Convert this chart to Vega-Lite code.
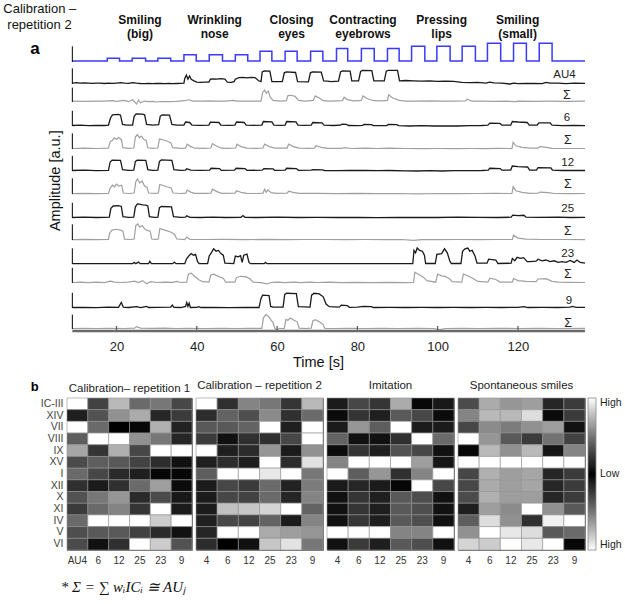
{
"$schema": "https://vega.github.io/schema/vega-lite/v6.json",
"background": "white",
"padding": {"left": 3, "top": 3, "right": 0, "bottom": 0},
"config": {"font": "Liberation Sans", "view": {"stroke": null}},
"datasets": {
"st": [{"t":9,"v":0.06},{"t":17.7,"v":0.23},{"t":20.75,"v":0.06},{"t":23.9,"v":0.23},{"t":27.25,"v":0.06},{"t":30.3,"v":0.23},{"t":33.5,"v":0.06},{"t":36.8,"v":0.45},{"t":39.85,"v":0.06},{"t":43.1,"v":0.45},{"t":46.4,"v":0.06},{"t":49.6,"v":0.45},{"t":52.7,"v":0.06},{"t":55.75,"v":0.67},{"t":58.7,"v":0.06},{"t":62,"v":0.67},{"t":65,"v":0.06},{"t":68.35,"v":0.67},{"t":71.4,"v":0.06},{"t":74.8,"v":0.84},{"t":77.6,"v":0.06},{"t":81,"v":0.84},{"t":84.2,"v":0.06},{"t":87.5,"v":0.84},{"t":90.4,"v":0.06},{"t":93.5,"v":0.99},{"t":96.8,"v":0.06},{"t":99.8,"v":0.99},{"t":103.1,"v":0.06},{"t":106.1,"v":0.99},{"t":109.4,"v":0.06},{"t":112.4,"v":1.17},{"t":115.7,"v":0.06},{"t":118.9,"v":1.17},{"t":122.1,"v":0.06},{"t":125.3,"v":1.17},{"t":128.5,"v":0.06},{"t":136.7,"v":0.06}],
"ev": [{"t":25.85,"l1":"Smiling","l2":"(big)"},{"t":44.45,"l1":"Wrinkling","l2":"nose"},{"t":63.6,"l1":"Closing","l2":"eyes"},{"t":81.4,"l1":"Contracting","l2":"eyebrows"},{"t":101,"l1":"Pressing","l2":"lips"},{"t":119.9,"l1":"Smiling","l2":"(small)"}],
"tk": [{"t":20},{"t":40},{"t":60},{"t":80},{"t":100},{"t":120}],
"a4": [{"t":9,"v":0.06},{"t":10,"v":0.08},{"t":11,"v":0.05},{"t":12,"v":0.07},{"t":13,"v":0.06},{"t":14,"v":0.04},{"t":15,"v":0.06},{"t":16,"v":0.05},{"t":17,"v":0.03},{"t":18,"v":0.05},{"t":19,"v":0.04},{"t":20,"v":0.06},{"t":21,"v":0.08},{"t":22,"v":0.05},{"t":23,"v":0.04},{"t":24,"v":0.09},{"t":25,"v":0.05},{"t":26,"v":0.03},{"t":27,"v":0.02},{"t":28,"v":0.03},{"t":29,"v":0.02},{"t":30,"v":0.03},{"t":31,"v":0.04},{"t":32,"v":0.02},{"t":33,"v":0.03},{"t":34,"v":0.02},{"t":35,"v":0.03},{"t":36,"v":0.04},{"t":36.8,"v":0.05},{"t":37,"v":0.35},{"t":37.4,"v":0.55},{"t":37.8,"v":0.3},{"t":38.2,"v":0.5},{"t":38.6,"v":0.3},{"t":39.3,"v":0.2},{"t":40,"v":0.12},{"t":41,"v":0.1},{"t":42,"v":0.12},{"t":43,"v":0.12},{"t":43.4,"v":0.3},{"t":44,"v":0.32},{"t":45,"v":0.3},{"t":46,"v":0.33},{"t":47,"v":0.3},{"t":47.6,"v":0.12},{"t":48.5,"v":0.1},{"t":49.3,"v":0.15},{"t":49.6,"v":0.3},{"t":50.5,"v":0.4},{"t":51.5,"v":0.42},{"t":52.5,"v":0.38},{"t":53.5,"v":0.42},{"t":54.5,"v":0.4},{"t":55.4,"v":0.2},{"t":56,"v":0.15},{"t":56.3,"v":0.75},{"t":56.8,"v":0.82},{"t":58.2,"v":0.8},{"t":58.7,"v":0.15},{"t":61.3,"v":0.15},{"t":61.8,"v":0.7},{"t":62.3,"v":0.76},{"t":64.6,"v":0.72},{"t":65.1,"v":0.15},{"t":67.8,"v":0.13},{"t":68.3,"v":0.7},{"t":68.8,"v":0.76},{"t":71,"v":0.74},{"t":71.6,"v":0.2},{"t":72.5,"v":0.18},{"t":73.5,"v":0.15},{"t":75.3,"v":0.18},{"t":75.8,"v":0.75},{"t":76.3,"v":0.82},{"t":78.2,"v":0.8},{"t":78.6,"v":0.2},{"t":80.3,"v":0.2},{"t":80.8,"v":0.78},{"t":81.3,"v":0.85},{"t":83.6,"v":0.83},{"t":84.1,"v":0.2},{"t":86.7,"v":0.2},{"t":87.2,"v":0.8},{"t":87.7,"v":0.85},{"t":90,"v":0.85},{"t":90.5,"v":0.2},{"t":92,"v":0.22},{"t":94,"v":0.2},{"t":96,"v":0.18},{"t":98,"v":0.2},{"t":100,"v":0.17},{"t":102,"v":0.18},{"t":104,"v":0.16},{"t":106,"v":0.1},{"t":108,"v":0.08},{"t":110,"v":0.1},{"t":112,"v":0.06},{"t":113,"v":0.12},{"t":114,"v":0.07},{"t":116,"v":0.05},{"t":118,"v":0.0},{"t":119,"v":0.06},{"t":120,"v":0.02},{"t":122,"v":0.03},{"t":124,"v":0.04},{"t":126,"v":0.02},{"t":127,"v":0.1},{"t":128,"v":0.06},{"t":130,"v":0.05},{"t":132,"v":0.02},{"t":134,"v":0.06},{"t":136.7,"v":0.04}],
"s4": [{"t":9,"v":0.05},{"t":12,"v":0.04},{"t":15,"v":0.06},{"t":17,"v":0.05},{"t":19,"v":0.08},{"t":20,"v":0.04},{"t":22,"v":0.1},{"t":23,"v":0.02},{"t":24,"v":0.14},{"t":25,"v":-0.12},{"t":25.5,"v":0.12},{"t":26,"v":-0.05},{"t":27,"v":0.06},{"t":28,"v":0.02},{"t":29,"v":0.04},{"t":30,"v":0.0},{"t":31,"v":0.03},{"t":33,"v":0.02},{"t":35,"v":0.04},{"t":37,"v":0.08},{"t":38,"v":0.14},{"t":39,"v":0.06},{"t":41,"v":0.05},{"t":43,"v":0.07},{"t":45,"v":0.05},{"t":47,"v":0.06},{"t":49,"v":0.1},{"t":50,"v":0.05},{"t":52,"v":0.06},{"t":54,"v":0.05},{"t":56,"v":0.05},{"t":56.4,"v":0.6},{"t":56.9,"v":0.75},{"t":57.3,"v":0.55},{"t":57.8,"v":0.68},{"t":58.3,"v":0.3},{"t":59,"v":0.1},{"t":61,"v":0.05},{"t":62.3,"v":0.08},{"t":62.7,"v":0.4},{"t":63.5,"v":0.42},{"t":64.5,"v":0.35},{"t":65.3,"v":0.1},{"t":67,"v":0.05},{"t":69,"v":0.1},{"t":69.5,"v":0.38},{"t":70.5,"v":0.25},{"t":71.5,"v":0.08},{"t":73,"v":0.06},{"t":75,"v":0.07},{"t":76.3,"v":0.08},{"t":76.7,"v":0.3},{"t":77.5,"v":0.15},{"t":79,"v":0.07},{"t":81,"v":0.1},{"t":81.4,"v":0.38},{"t":82.5,"v":0.2},{"t":84,"v":0.08},{"t":86,"v":0.07},{"t":87.5,"v":0.1},{"t":87.8,"v":0.45},{"t":88.8,"v":0.25},{"t":90.5,"v":0.1},{"t":92,"v":0.06},{"t":95,"v":0.05},{"t":98,"v":0.07},{"t":101,"v":0.05},{"t":104,"v":0.06},{"t":107,"v":0.07},{"t":107.3,"v":0.18},{"t":108.5,"v":0.06},{"t":111,"v":0.05},{"t":114,"v":0.04},{"t":117,"v":0.05},{"t":119.5,"v":0.02},{"t":120,"v":0.05},{"t":124,"v":0.04},{"t":128,"v":0.05},{"t":132,"v":0.04},{"t":136.7,"v":0.05}],
"a6": [{"t":9,"v":0.03},{"t":11,"v":0.05},{"t":13,"v":0.02},{"t":15,"v":0.04},{"t":17,"v":0.03},{"t":18,"v":0.06},{"t":18.5,"v":0.5},{"t":19,"v":0.7},{"t":20.5,"v":0.73},{"t":21,"v":0.68},{"t":21.5,"v":0.1},{"t":22.5,"v":0.05},{"t":24,"v":0.06},{"t":24.4,"v":0.6},{"t":24.9,"v":0.76},{"t":26.5,"v":0.74},{"t":27,"v":0.7},{"t":27.5,"v":0.1},{"t":29,"v":0.05},{"t":30.5,"v":0.08},{"t":30.9,"v":0.62},{"t":31.4,"v":0.7},{"t":33.2,"v":0.68},{"t":33.8,"v":0.1},{"t":35,"v":0.05},{"t":36.8,"v":0.06},{"t":37.2,"v":0.25},{"t":38.2,"v":0.22},{"t":38.8,"v":0.06},{"t":41,"v":0.04},{"t":43,"v":0.06},{"t":43.4,"v":0.24},{"t":45.5,"v":0.22},{"t":46,"v":0.05},{"t":48,"v":0.04},{"t":49.5,"v":0.06},{"t":49.9,"v":0.25},{"t":51.8,"v":0.22},{"t":52.3,"v":0.05},{"t":54,"v":0.04},{"t":56.2,"v":0.06},{"t":56.6,"v":0.28},{"t":58.7,"v":0.26},{"t":59.2,"v":0.05},{"t":61,"v":0.04},{"t":62,"v":0.06},{"t":62.4,"v":0.28},{"t":64.7,"v":0.26},{"t":65.2,"v":0.05},{"t":67,"v":0.04},{"t":68.5,"v":0.05},{"t":68.9,"v":0.22},{"t":71.2,"v":0.2},{"t":71.7,"v":0.05},{"t":74,"v":0.03},{"t":75.8,"v":0.05},{"t":76.2,"v":0.12},{"t":77.3,"v":0.1},{"t":77.8,"v":0.03},{"t":80,"v":0.02},{"t":81.3,"v":0.04},{"t":81.7,"v":0.1},{"t":83.5,"v":0.08},{"t":84,"v":0.02},{"t":87.3,"v":0.03},{"t":87.7,"v":0.1},{"t":89.8,"v":0.08},{"t":90.3,"v":0.02},{"t":93,"v":0.0},{"t":96,"v":0.02},{"t":99,"v":0.0},{"t":102,"v":0.01},{"t":105,"v":0.0},{"t":108,"v":0.02},{"t":111,"v":0.03},{"t":112.5,"v":0.05},{"t":113,"v":0.18},{"t":115.5,"v":0.16},{"t":116,"v":0.05},{"t":118.2,"v":0.05},{"t":118.6,"v":0.28},{"t":120,"v":0.25},{"t":122.3,"v":0.22},{"t":122.8,"v":0.05},{"t":124.8,"v":0.06},{"t":125.2,"v":0.2},{"t":128,"v":0.2},{"t":128.5,"v":0.05},{"t":131,"v":0.02},{"t":134,"v":0.03},{"t":136.7,"v":0.02}],
"s6": [{"t":9,"v":0.03},{"t":12,"v":0.05},{"t":15,"v":0.03},{"t":18,"v":0.05},{"t":18.4,"v":0.45},{"t":19,"v":0.55},{"t":19.5,"v":0.7},{"t":20,"v":0.6},{"t":20.5,"v":0.72},{"t":21.2,"v":0.6},{"t":21.6,"v":0.08},{"t":23,"v":0.04},{"t":24.3,"v":0.06},{"t":24.7,"v":0.75},{"t":25.2,"v":0.9},{"t":25.7,"v":0.7},{"t":26.2,"v":0.8},{"t":26.8,"v":0.6},{"t":27.4,"v":0.52},{"t":27.8,"v":0.08},{"t":29,"v":0.04},{"t":30.3,"v":0.06},{"t":30.7,"v":0.62},{"t":31.5,"v":0.58},{"t":32.5,"v":0.5},{"t":33.5,"v":0.4},{"t":34,"v":0.08},{"t":36,"v":0.04},{"t":37.2,"v":0.05},{"t":37.6,"v":0.3},{"t":38.5,"v":0.15},{"t":39.5,"v":0.05},{"t":42,"v":0.04},{"t":43.5,"v":0.06},{"t":43.9,"v":0.33},{"t":44.8,"v":0.2},{"t":46,"v":0.05},{"t":48,"v":0.04},{"t":49.7,"v":0.06},{"t":50,"v":0.3},{"t":51,"v":0.15},{"t":52.5,"v":0.05},{"t":55,"v":0.04},{"t":56.5,"v":0.06},{"t":56.9,"v":0.31},{"t":58,"v":0.15},{"t":59.5,"v":0.05},{"t":62.5,"v":0.06},{"t":62.9,"v":0.31},{"t":64,"v":0.15},{"t":65.5,"v":0.05},{"t":68,"v":0.04},{"t":69.3,"v":0.05},{"t":69.7,"v":0.2},{"t":71,"v":0.1},{"t":72.5,"v":0.04},{"t":76,"v":0.04},{"t":77,"v":0.08},{"t":78.5,"v":0.03},{"t":82,"v":0.05},{"t":85,"v":0.03},{"t":88,"v":0.05},{"t":92,"v":0.03},{"t":96,"v":0.02},{"t":100,"v":0.03},{"t":104,"v":0.02},{"t":108,"v":0.03},{"t":112,"v":0.02},{"t":115,"v":0.04},{"t":118.5,"v":0.03},{"t":118.8,"v":0.42},{"t":119.5,"v":0.2},{"t":121,"v":0.1},{"t":123,"v":0.05},{"t":125,"v":0.06},{"t":125.5,"v":0.15},{"t":127,"v":0.1},{"t":128.5,"v":0.04},{"t":132,"v":0.03},{"t":136.7,"v":0.03}],
"a12": [{"t":9,"v":0.03},{"t":12,"v":0.05},{"t":15,"v":0.02},{"t":18,"v":0.04},{"t":18.4,"v":0.55},{"t":18.9,"v":0.68},{"t":21,"v":0.66},{"t":21.5,"v":0.08},{"t":23,"v":0.04},{"t":24.3,"v":0.06},{"t":24.7,"v":0.6},{"t":25.2,"v":0.68},{"t":27.3,"v":0.66},{"t":27.8,"v":0.08},{"t":29,"v":0.04},{"t":30.3,"v":0.06},{"t":30.7,"v":0.6},{"t":31.2,"v":0.7},{"t":33.8,"v":0.66},{"t":34.3,"v":0.08},{"t":36,"v":0.04},{"t":37.2,"v":0.06},{"t":37.5,"v":0.14},{"t":38.5,"v":0.05},{"t":41,"v":0.04},{"t":43.2,"v":0.06},{"t":43.6,"v":0.17},{"t":45.7,"v":0.15},{"t":46.1,"v":0.04},{"t":49.4,"v":0.05},{"t":49.8,"v":0.17},{"t":52,"v":0.15},{"t":52.5,"v":0.04},{"t":56.3,"v":0.05},{"t":56.7,"v":0.15},{"t":59,"v":0.13},{"t":59.4,"v":0.04},{"t":62,"v":0.05},{"t":62.4,"v":0.17},{"t":64.8,"v":0.15},{"t":65.3,"v":0.04},{"t":68.5,"v":0.05},{"t":68.9,"v":0.08},{"t":71.4,"v":0.07},{"t":71.8,"v":0.02},{"t":75,"v":0.02},{"t":78,"v":0.03},{"t":82,"v":0.04},{"t":85,"v":0.02},{"t":88,"v":0.03},{"t":92,"v":0.01},{"t":95,"v":0.0},{"t":98,"v":0.02},{"t":101,"v":0.0},{"t":104,"v":0.02},{"t":108,"v":0.02},{"t":111,"v":0.03},{"t":112.6,"v":0.05},{"t":113,"v":0.17},{"t":115.6,"v":0.15},{"t":116,"v":0.05},{"t":118.2,"v":0.06},{"t":118.6,"v":0.31},{"t":120,"v":0.27},{"t":122.4,"v":0.25},{"t":122.9,"v":0.06},{"t":124.6,"v":0.06},{"t":125,"v":0.21},{"t":128.2,"v":0.2},{"t":128.6,"v":0.05},{"t":131,"v":0.03},{"t":134,"v":0.04},{"t":136.7,"v":0.03}],
"s12": [{"t":9,"v":0.02},{"t":12,"v":0.04},{"t":15,"v":0.02},{"t":18,"v":0.04},{"t":18.4,"v":0.35},{"t":19,"v":0.55},{"t":19.5,"v":0.45},{"t":20,"v":0.62},{"t":20.6,"v":0.5},{"t":21.3,"v":0.55},{"t":21.7,"v":0.06},{"t":23,"v":0.03},{"t":24.4,"v":0.06},{"t":24.8,"v":0.75},{"t":25.2,"v":0.94},{"t":25.8,"v":0.7},{"t":26.4,"v":0.8},{"t":27,"v":0.5},{"t":27.6,"v":0.42},{"t":28,"v":0.06},{"t":29.5,"v":0.04},{"t":30.4,"v":0.05},{"t":30.8,"v":0.6},{"t":31.5,"v":0.55},{"t":32.5,"v":0.45},{"t":33.6,"v":0.38},{"t":34.1,"v":0.06},{"t":36,"v":0.03},{"t":37.3,"v":0.05},{"t":37.6,"v":0.25},{"t":38.5,"v":0.12},{"t":39.5,"v":0.04},{"t":42,"v":0.04},{"t":43.5,"v":0.05},{"t":43.9,"v":0.3},{"t":45,"v":0.15},{"t":46.2,"v":0.04},{"t":49.5,"v":0.05},{"t":49.9,"v":0.2},{"t":51,"v":0.1},{"t":52.5,"v":0.04},{"t":55,"v":0.03},{"t":56.5,"v":0.05},{"t":56.9,"v":0.3},{"t":57.3,"v":0.1},{"t":57.7,"v":0.25},{"t":58.5,"v":0.08},{"t":60,"v":0.04},{"t":62.5,"v":0.05},{"t":62.9,"v":0.17},{"t":64,"v":0.1},{"t":65.5,"v":0.04},{"t":70,"v":0.04},{"t":75,"v":0.02},{"t":80,"v":0.04},{"t":85,"v":0.02},{"t":90,"v":0.03},{"t":95,"v":0.01},{"t":100,"v":0.03},{"t":105,"v":0.02},{"t":110,"v":0.03},{"t":114,"v":0.04},{"t":118.5,"v":0.03},{"t":118.8,"v":0.46},{"t":119.5,"v":0.2},{"t":121,"v":0.1},{"t":123,"v":0.04},{"t":125,"v":0.06},{"t":125.5,"v":0.12},{"t":127.5,"v":0.08},{"t":129,"v":0.03},{"t":133,"v":0.02},{"t":136.7,"v":0.03}],
"a25": [{"t":9,"v":0.03},{"t":12,"v":0.05},{"t":15,"v":0.03},{"t":17,"v":0.04},{"t":18.2,"v":0.06},{"t":18.6,"v":0.6},{"t":19.2,"v":0.75},{"t":20.5,"v":0.77},{"t":21.2,"v":0.72},{"t":21.6,"v":0.08},{"t":23,"v":0.04},{"t":24.3,"v":0.06},{"t":24.7,"v":0.7},{"t":25.2,"v":0.88},{"t":26,"v":0.85},{"t":26.5,"v":0.82},{"t":27.3,"v":0.8},{"t":27.8,"v":0.75},{"t":28.2,"v":0.08},{"t":29.5,"v":0.04},{"t":30.3,"v":0.06},{"t":30.7,"v":0.65},{"t":31.2,"v":0.72},{"t":33.7,"v":0.7},{"t":34.2,"v":0.08},{"t":36,"v":0.04},{"t":37.2,"v":0.05},{"t":37.5,"v":0.14},{"t":38.3,"v":0.04},{"t":41,"v":0.03},{"t":44,"v":0.05},{"t":47,"v":0.03},{"t":51,"v":0.04},{"t":51.5,"v":0.15},{"t":52,"v":0.04},{"t":55,"v":0.03},{"t":60,"v":0.05},{"t":65,"v":0.03},{"t":70,"v":0.04},{"t":75,"v":0.03},{"t":80,"v":0.04},{"t":85,"v":0.02},{"t":90,"v":0.04},{"t":95,"v":0.03},{"t":100,"v":0.03},{"t":105,"v":0.05},{"t":110,"v":0.04},{"t":115,"v":0.03},{"t":118.3,"v":0.05},{"t":118.7,"v":0.18},{"t":120,"v":0.15},{"t":121.5,"v":0.17},{"t":122,"v":0.05},{"t":125,"v":0.04},{"t":130,"v":0.05},{"t":133,"v":0.03},{"t":136.7,"v":0.04}],
"s25": [{"t":9,"v":0.02},{"t":12,"v":0.04},{"t":15,"v":0.02},{"t":18,"v":0.04},{"t":18.3,"v":0.45},{"t":18.9,"v":0.62},{"t":20,"v":0.67},{"t":21,"v":0.62},{"t":21.6,"v":0.55},{"t":22,"v":0.05},{"t":23.5,"v":0.03},{"t":24.4,"v":0.06},{"t":24.8,"v":0.9},{"t":25.3,"v":1.0},{"t":25.8,"v":0.8},{"t":26.4,"v":0.9},{"t":27,"v":0.7},{"t":27.6,"v":0.6},{"t":28.4,"v":0.55},{"t":28.8,"v":0.06},{"t":29.8,"v":0.04},{"t":30.4,"v":0.06},{"t":30.8,"v":0.72},{"t":32,"v":0.62},{"t":33.5,"v":0.5},{"t":34.5,"v":0.35},{"t":35,"v":0.06},{"t":37,"v":0.03},{"t":37.5,"v":0.18},{"t":38.3,"v":0.04},{"t":42,"v":0.03},{"t":47,"v":0.04},{"t":52,"v":0.02},{"t":57,"v":0.04},{"t":62,"v":0.02},{"t":67,"v":0.03},{"t":72,"v":0.03},{"t":77,"v":0.02},{"t":82,"v":0.03},{"t":87,"v":0.02},{"t":91,"v":0.03},{"t":94,"v":-0.02},{"t":96,"v":0.02},{"t":100,"v":0.02},{"t":105,"v":0.03},{"t":110,"v":0.02},{"t":115,"v":0.03},{"t":118.6,"v":0.03},{"t":118.9,"v":0.3},{"t":120,"v":0.12},{"t":122,"v":0.06},{"t":126,"v":0.03},{"t":131,"v":0.03},{"t":136.7,"v":0.02}],
"a23": [{"t":9,"v":0.02},{"t":24,"v":0.02},{"t":24.4,"v":0.1},{"t":24.8,"v":0.02},{"t":25.5,"v":0.12},{"t":25.9,"v":0.02},{"t":28,"v":0.02},{"t":28.3,"v":0.17},{"t":28.7,"v":0.02},{"t":34,"v":0.02},{"t":34.4,"v":0.12},{"t":34.8,"v":0.02},{"t":37,"v":0.02},{"t":37.4,"v":0.3},{"t":38,"v":0.5},{"t":38.6,"v":0.65},{"t":39.2,"v":0.55},{"t":39.7,"v":0.6},{"t":40.2,"v":0.15},{"t":40.6,"v":0.02},{"t":42.7,"v":0.02},{"t":43.1,"v":0.5},{"t":43.6,"v":0.7},{"t":44.2,"v":0.95},{"t":44.8,"v":0.8},{"t":45.4,"v":0.85},{"t":46,"v":0.65},{"t":46.6,"v":0.55},{"t":47,"v":0.05},{"t":49.2,"v":0.02},{"t":49.6,"v":0.5},{"t":50.3,"v":0.45},{"t":50.9,"v":0.52},{"t":51.3,"v":0.1},{"t":51.7,"v":0.55},{"t":52.5,"v":0.62},{"t":53,"v":0.1},{"t":53.4,"v":0.02},{"t":56.8,"v":0.02},{"t":57.1,"v":0.1},{"t":57.5,"v":0.02},{"t":93.8,"v":0.02},{"t":94.1,"v":0.85},{"t":94.5,"v":0.7},{"t":94.9,"v":1.0},{"t":95.5,"v":0.85},{"t":96.2,"v":0.8},{"t":96.7,"v":0.55},{"t":97,"v":0.03},{"t":99.4,"v":0.03},{"t":99.8,"v":0.6},{"t":101,"v":0.65},{"t":101.7,"v":0.95},{"t":102.4,"v":0.7},{"t":103,"v":0.2},{"t":103.4,"v":0.03},{"t":105.8,"v":0.03},{"t":106.2,"v":0.8},{"t":106.8,"v":0.95},{"t":107.5,"v":1.0},{"t":108,"v":0.8},{"t":108.6,"v":0.85},{"t":109.3,"v":0.5},{"t":109.8,"v":0.05},{"t":112.3,"v":0.05},{"t":112.7,"v":0.3},{"t":114.5,"v":0.25},{"t":115,"v":0.03},{"t":118.3,"v":0.05},{"t":118.6,"v":0.35},{"t":119.2,"v":0.2},{"t":119.8,"v":0.42},{"t":120.6,"v":0.35},{"t":121.4,"v":0.4},{"t":122.3,"v":0.15},{"t":123,"v":0.15},{"t":124.5,"v":0.18},{"t":125,"v":0.3},{"t":126,"v":0.2},{"t":127,"v":0.25},{"t":128,"v":0.15},{"t":129,"v":0.2},{"t":130,"v":0.1},{"t":131,"v":0.15},{"t":132,"v":0.1},{"t":133,"v":0.22},{"t":134,"v":0.1},{"t":134.7,"v":0.25},{"t":135.5,"v":0.1},{"t":136.7,"v":0.05}],
"s23": [{"t":9,"v":0.03},{"t":11,"v":0.06},{"t":13,"v":0.02},{"t":15,"v":0.05},{"t":17,"v":0.02},{"t":18.5,"v":0.12},{"t":19.5,"v":0.05},{"t":21,"v":0.03},{"t":23,"v":0.05},{"t":24.5,"v":0.12},{"t":25.5,"v":0.03},{"t":26.5,"v":0.15},{"t":27.5,"v":-0.05},{"t":28.5,"v":0.08},{"t":30,"v":0.03},{"t":32,"v":0.06},{"t":34,"v":0.04},{"t":35,"v":0.1},{"t":36,"v":0.03},{"t":37.5,"v":0.05},{"t":37.9,"v":0.55},{"t":38.6,"v":0.62},{"t":39.3,"v":0.45},{"t":40.5,"v":0.2},{"t":41.5,"v":0.08},{"t":43,"v":0.05},{"t":43.5,"v":0.5},{"t":44.2,"v":0.55},{"t":45.5,"v":0.4},{"t":46.6,"v":0.3},{"t":47.2,"v":0.05},{"t":49.5,"v":0.05},{"t":49.9,"v":0.35},{"t":51,"v":0.42},{"t":52.3,"v":0.38},{"t":53.3,"v":0.25},{"t":54,"v":0.05},{"t":56,"v":0.02},{"t":57.5,"v":-0.06},{"t":58.5,"v":0.03},{"t":60,"v":0.05},{"t":62,"v":0.02},{"t":64,"v":0.06},{"t":66,"v":0.02},{"t":68,"v":0.05},{"t":70,"v":0.03},{"t":73,"v":0.05},{"t":76,"v":0.02},{"t":80,"v":0.04},{"t":84,"v":0.02},{"t":88,"v":0.04},{"t":92,"v":0.02},{"t":94,"v":0.04},{"t":94.3,"v":0.67},{"t":95.5,"v":0.5},{"t":96.5,"v":0.35},{"t":97.3,"v":0.15},{"t":99.5,"v":0.05},{"t":100,"v":0.56},{"t":101,"v":0.45},{"t":102,"v":0.4},{"t":103,"v":0.25},{"t":103.6,"v":0.08},{"t":106,"v":0.05},{"t":106.4,"v":0.56},{"t":107.5,"v":0.45},{"t":108.7,"v":0.3},{"t":110,"v":0.1},{"t":112.5,"v":0.06},{"t":113,"v":0.3},{"t":114.5,"v":0.22},{"t":115.5,"v":0.06},{"t":118.6,"v":0.06},{"t":118.9,"v":0.28},{"t":120,"v":0.15},{"t":122,"v":0.1},{"t":124.5,"v":0.08},{"t":125,"v":0.25},{"t":127,"v":0.27},{"t":128.5,"v":0.1},{"t":130,"v":0.05},{"t":133,"v":0.04},{"t":136.7,"v":0.03}],
"a9": [{"t":9,"v":0.03},{"t":12,"v":0.04},{"t":15,"v":0.02},{"t":18,"v":0.05},{"t":20.5,"v":0.04},{"t":21.2,"v":0.35},{"t":21.7,"v":0.05},{"t":23,"v":0.03},{"t":25,"v":0.08},{"t":26,"v":0.03},{"t":27.5,"v":0.1},{"t":28,"v":0.03},{"t":30,"v":0.04},{"t":33.5,"v":0.06},{"t":33.9,"v":0.18},{"t":34.3,"v":0.04},{"t":36,"v":0.03},{"t":37.2,"v":0.1},{"t":37.5,"v":0.35},{"t":37.8,"v":0.1},{"t":38.1,"v":0.3},{"t":38.4,"v":0.03},{"t":40,"v":0.04},{"t":40.5,"v":0.08},{"t":41,"v":0.03},{"t":44,"v":0.03},{"t":48,"v":0.02},{"t":52,"v":0.03},{"t":55.5,"v":0.03},{"t":56,"v":0.6},{"t":56.4,"v":0.8},{"t":58,"v":0.78},{"t":58.4,"v":0.1},{"t":59,"v":0.05},{"t":61.5,"v":0.05},{"t":61.9,"v":0.85},{"t":62.4,"v":0.92},{"t":64.8,"v":0.9},{"t":65.3,"v":0.08},{"t":68.2,"v":0.05},{"t":68.6,"v":0.8},{"t":69.2,"v":0.92},{"t":70.5,"v":0.88},{"t":71.5,"v":0.7},{"t":72.2,"v":0.25},{"t":73,"v":0.08},{"t":75.5,"v":0.05},{"t":76,"v":0.18},{"t":77.5,"v":0.15},{"t":78,"v":0.04},{"t":80,"v":0.05},{"t":81.5,"v":0.1},{"t":83.5,"v":0.09},{"t":84,"v":0.03},{"t":88,"v":0.04},{"t":92,"v":0.03},{"t":96,"v":0.04},{"t":100,"v":0.03},{"t":104,"v":0.04},{"t":108,"v":0.03},{"t":112,"v":0.04},{"t":116,"v":0.03},{"t":120,"v":0.04},{"t":121.5,"v":0.08},{"t":122.5,"v":0.03},{"t":126,"v":0.04},{"t":130,"v":0.03},{"t":133,"v":0.05},{"t":133.5,"v":0.1},{"t":134.5,"v":0.04},{"t":136.7,"v":0.04}],
"s9": [{"t":9,"v":0.03},{"t":12,"v":0.04},{"t":15,"v":0.03},{"t":18,"v":0.04},{"t":22,"v":0.03},{"t":24.5,"v":0.05},{"t":25,"v":0.15},{"t":26,"v":0.06},{"t":29,"v":0.04},{"t":32,"v":0.05},{"t":35,"v":0.03},{"t":38,"v":0.04},{"t":42,"v":0.03},{"t":46,"v":0.04},{"t":50,"v":0.03},{"t":53,"v":0.04},{"t":56.2,"v":0.04},{"t":56.6,"v":0.7},{"t":57.2,"v":0.9},{"t":57.8,"v":0.8},{"t":58.5,"v":0.55},{"t":59,"v":0.4},{"t":59.4,"v":0.05},{"t":59.9,"v":-0.05},{"t":60.5,"v":0.03},{"t":61.8,"v":0.04},{"t":62.2,"v":0.6},{"t":62.7,"v":0.55},{"t":63.3,"v":0.69},{"t":64.2,"v":0.55},{"t":65,"v":0.45},{"t":65.5,"v":0.05},{"t":67,"v":0.03},{"t":68.5,"v":0.05},{"t":68.9,"v":0.5},{"t":69.5,"v":0.58},{"t":70.5,"v":0.45},{"t":71.4,"v":0.3},{"t":71.9,"v":0.04},{"t":74,"v":0.03},{"t":78,"v":0.04},{"t":82,"v":0.03},{"t":86,"v":0.04},{"t":90,"v":0.03},{"t":95,"v":0.04},{"t":99,"v":0.03},{"t":100.5,"v":-0.04},{"t":102,"v":0.03},{"t":106,"v":0.04},{"t":110,"v":0.03},{"t":115,"v":0.04},{"t":120,"v":0.03},{"t":125,"v":0.04},{"t":130,"v":0.03},{"t":136.7,"v":0.04}],
"hm": [
{"p":1,"r":"IC-III","4":1,"6":0.28,"12":0.75,"25":0.45,"23":0.5,"9":0.3},
{"p":1,"r":"XIV","4":0.12,"6":0.35,"12":0.6,"25":0.7,"23":0.15,"9":0.25},
{"p":1,"r":"VII","4":1,"6":0.45,"12":0.0,"25":0.02,"23":0.72,"9":0.13},
{"p":1,"r":"VIII","4":0.4,"6":1,"12":1,"25":0.6,"23":0.5,"9":0.15},
{"p":1,"r":"IX","4":0.68,"6":0.22,"12":0.72,"25":0.3,"23":1,"9":1},
{"p":1,"r":"XV","4":0.32,"6":0.4,"12":0.38,"25":0.28,"23":0.18,"9":0.05},
{"p":1,"r":"I","4":0.45,"6":0.3,"12":0.17,"25":0.12,"23":0.02,"9":0.02},
{"p":1,"r":"XII","4":0.2,"6":0.1,"12":0.2,"25":0.45,"23":0.65,"9":0.03},
{"p":1,"r":"X","4":0.35,"6":0.5,"12":0.62,"25":0.17,"23":0.32,"9":0.08},
{"p":1,"r":"XI","4":0.25,"6":0.45,"12":0.55,"25":0.22,"23":1,"9":0.1},
{"p":1,"r":"IV","4":0.45,"6":1,"12":1,"25":1,"23":0.82,"9":1},
{"p":1,"r":"V","4":0.33,"6":0.38,"12":0.38,"25":0.28,"23":0.17,"9":0.05},
{"p":1,"r":"VI","4":0.32,"6":0.05,"12":0.2,"25":1,"23":0.82,"9":0.35},
{"p":2,"r":"IC-III","4":1,"6":0.2,"12":0.55,"25":0.5,"23":0.22,"9":0.75},
{"p":2,"r":"XIV","4":0.18,"6":0.42,"12":0.33,"25":0.58,"23":0.2,"9":0.45},
{"p":2,"r":"VII","4":0.38,"6":0.38,"12":0.42,"25":1,"23":0.12,"9":1},
{"p":2,"r":"VIII","4":0.25,"6":0.05,"12":0.2,"25":0.2,"23":0.3,"9":1},
{"p":2,"r":"IX","4":1,"6":0.12,"12":0.18,"25":0.62,"23":0.1,"9":0.6},
{"p":2,"r":"XV","4":0.12,"6":0.18,"12":0.12,"25":1,"23":0.18,"9":0.9},
{"p":2,"r":"I","4":0.4,"6":1,"12":1,"25":0.92,"23":1,"9":0.5},
{"p":2,"r":"XII","4":0.1,"6":0.3,"12":0.25,"25":0.45,"23":0.13,"9":0.52},
{"p":2,"r":"X","4":0.1,"6":0.3,"12":0.28,"25":0.45,"23":0.15,"9":0.55},
{"p":2,"r":"XI","4":0.1,"6":0.78,"12":0.8,"25":0.85,"23":1,"9":0.42},
{"p":2,"r":"IV","4":0.12,"6":0.3,"12":0.28,"25":0.42,"23":0.1,"9":0.55},
{"p":2,"r":"V","4":0.15,"6":1,"12":1,"25":0.7,"23":0.65,"9":0.62},
{"p":2,"r":"VI","4":0.18,"6":0.0,"12":0.05,"25":0.8,"23":0.9,"9":0.5},
{"p":3,"r":"IC-III","4":0.1,"6":0.3,"12":0.22,"25":0.7,"23":0.02,"9":0.08},
{"p":3,"r":"XIV","4":0.03,"6":0.22,"12":0.12,"25":0.38,"23":0.3,"9":0.03},
{"p":3,"r":"VII","4":0.1,"6":0.62,"12":0.4,"25":1,"23":0.1,"9":0.1},
{"p":3,"r":"VIII","4":0.42,"6":0.05,"12":0.05,"25":0.2,"23":1,"9":0.45},
{"p":3,"r":"IX","4":0.03,"6":0.22,"12":0.12,"25":0.35,"23":0.3,"9":0.05},
{"p":3,"r":"XV","4":0.55,"6":1,"12":1,"25":1,"23":0.65,"9":0.07},
{"p":3,"r":"I","4":1,"6":0.4,"12":0.62,"25":0.2,"23":0.55,"9":1},
{"p":3,"r":"XII","4":0.1,"6":0.15,"12":0.1,"25":0.02,"23":1,"9":0.3},
{"p":3,"r":"X","4":0.05,"6":0.22,"12":0.12,"25":0.38,"23":0.33,"9":0.05},
{"p":3,"r":"XI","4":0.05,"6":0.22,"12":0.12,"25":0.38,"23":0.33,"9":0.05},
{"p":3,"r":"IV","4":0.05,"6":0.22,"12":0.12,"25":0.38,"23":0.33,"9":0.05},
{"p":3,"r":"V","4":1,"6":1,"12":1,"25":0.55,"23":0.55,"9":1},
{"p":3,"r":"VI","4":0.05,"6":0.25,"12":0.12,"25":0.38,"23":0.33,"9":0.05},
{"p":4,"r":"IC-III","4":0.32,"6":0.7,"12":0.62,"25":0.65,"23":0.15,"9":0.25},
{"p":4,"r":"XIV","4":0.55,"6":0.75,"12":0.75,"25":0.88,"23":0.03,"9":0.25},
{"p":4,"r":"VII","4":0.3,"6":0.58,"12":0.52,"25":0.6,"23":0.65,"9":0.05},
{"p":4,"r":"VIII","4":1,"6":0.62,"12":0.38,"25":0.25,"23":0.48,"9":0.28},
{"p":4,"r":"IX","4":0.02,"6":0.75,"12":0.6,"25":0.75,"23":0.07,"9":0.55},
{"p":4,"r":"XV","4":1,"6":1,"12":1,"25":1,"23":1,"9":1},
{"p":4,"r":"I","4":0.3,"6":0.72,"12":0.65,"25":0.68,"23":0.15,"9":0.25},
{"p":4,"r":"XII","4":0.3,"6":0.7,"12":0.65,"25":0.68,"23":0.15,"9":0.25},
{"p":4,"r":"X","4":0.32,"6":0.72,"12":0.65,"25":0.65,"23":0.15,"9":0.25},
{"p":4,"r":"XI","4":0.12,"6":0.65,"12":0.58,"25":1,"23":0.6,"9":0.38},
{"p":4,"r":"IV","4":0.4,"6":0.88,"12":0.6,"25":0.2,"23":0.95,"9":1},
{"p":4,"r":"V","4":0.6,"6":1,"12":0.92,"25":0.88,"23":0.38,"9":0.45},
{"p":4,"r":"VI","4":0.85,"6":0.82,"12":1,"25":0.92,"23":1,"9":0.02}
]
},
"vconcat": [
{
"spacing": 0,
"bounds": "flush",
"vconcat": [
{"width": 518, "height": 18, "layer": [
 {"data": {"name": "st"}, "mark": {"type": "line", "color": "#3a3aff", "strokeWidth": 1.5, "interpolate": "step-after"},
  "encoding": {"x": {"field": "t", "type": "quantitative", "scale": {"domain": [7.67, 136.7], "nice": false}, "axis": null}, "y": {"field": "v", "type": "quantitative", "scale": {"domain": [0, 1.125], "nice": false}, "axis": null}}},
 {"data": {"values": [{}]}, "mark": {"type": "rule", "color": "#000", "strokeWidth": 1},
  "encoding": {"x": {"datum": 9, "axis": null}, "y": {"datum": 0, "axis": null}, "y2": {"datum": 0.98}}},
 {"data": {"name": "ev"}, "mark": {"type": "text", "fontSize": 12, "fontWeight": "bold", "color": "#111"},
  "encoding": {"x": {"field": "t", "type": "quantitative", "axis": null}, "y": {"datum": 2.64, "axis": null}, "text": {"field": "l1"}}},
 {"data": {"name": "ev"}, "mark": {"type": "text", "fontSize": 12, "fontWeight": "bold", "color": "#111"},
  "encoding": {"x": {"field": "t", "type": "quantitative", "axis": null}, "y": {"datum": 1.72, "axis": null}, "text": {"field": "l2"}}},
 {"data": {"values": [{}]}, "mark": {"type": "text", "fontSize": 13, "align": "left", "color": "#111"},
  "encoding": {"x": {"datum": -8.2, "axis": null}, "y": {"datum": 3.29, "axis": null}, "text": {"value": "Calibration –"}}},
 {"data": {"values": [{}]}, "mark": {"type": "text", "fontSize": 13, "align": "left", "color": "#111"},
  "encoding": {"x": {"datum": -7.2, "axis": null}, "y": {"datum": 2.34, "axis": null}, "text": {"value": "repetition 2"}}},
 {"data": {"values": [{}]}, "mark": {"type": "text", "fontSize": 17, "fontWeight": "bold", "color": "#000"},
  "encoding": {"x": {"datum": -0.3, "axis": null}, "y": {"datum": 0.79, "axis": null}, "text": {"value": "a"}}}
]},
{"width": 518, "height": 22, "layer": [
 {"data": {"name": "a4"}, "mark": {"type": "line", "color": "#1a1a1a", "strokeWidth": 1.3}, "encoding": {"x": {"field": "t", "type": "quantitative", "scale": {"domain": [7.67, 136.7], "nice": false}, "axis": null}, "y": {"field": "v", "type": "quantitative", "scale": {"domain": [0, 1.375], "nice": false}, "axis": null}}},
 {"data": {"values": [{}]}, "mark": {"type": "rule", "color": "#000", "strokeWidth": 1}, "encoding": {"x": {"datum": 9, "axis": null}, "y": {"datum": 0, "axis": null}, "y2": {"datum": 0.98}}},
 {"data": {"values": [{}]}, "mark": {"type": "text", "fontSize": 11.5, "color": "#222"}, "encoding": {"x": {"datum": 131.6, "axis": null}, "y": {"datum": 0.54, "axis": null}, "text": {"value": "AU4"}}}
]},
{"width": 518, "height": 18, "layer": [
 {"data": {"name": "s4"}, "mark": {"type": "line", "color": "#a0a0a0", "strokeWidth": 1.2}, "encoding": {"x": {"field": "t", "type": "quantitative", "scale": {"domain": [7.67, 136.7], "nice": false}, "axis": null}, "y": {"field": "v", "type": "quantitative", "scale": {"domain": [0, 1.125], "nice": false}, "axis": null}}},
 {"data": {"values": [{}]}, "mark": {"type": "rule", "color": "#000", "strokeWidth": 1}, "encoding": {"x": {"datum": 9, "axis": null}, "y": {"datum": 0, "axis": null}, "y2": {"datum": 0.9}}},
 {"data": {"values": [{}]}, "mark": {"type": "text", "fontSize": 12.5, "color": "#222"}, "encoding": {"x": {"datum": 132.2, "axis": null}, "y": {"datum": 0.42, "axis": null}, "text": {"value": "Σ"}}}
]},
{"width": 518, "height": 24, "layer": [
 {"data": {"name": "a6"}, "mark": {"type": "line", "color": "#1a1a1a", "strokeWidth": 1.3}, "encoding": {"x": {"field": "t", "type": "quantitative", "scale": {"domain": [7.67, 136.7], "nice": false}, "axis": null}, "y": {"field": "v", "type": "quantitative", "scale": {"domain": [0, 1.5], "nice": false}, "axis": null}}},
 {"data": {"values": [{}]}, "mark": {"type": "rule", "color": "#000", "strokeWidth": 1}, "encoding": {"x": {"datum": 9, "axis": null}, "y": {"datum": 0, "axis": null}, "y2": {"datum": 0.95}}},
 {"data": {"values": [{}]}, "mark": {"type": "text", "fontSize": 11.5, "color": "#222"}, "encoding": {"x": {"datum": 132.2, "axis": null}, "y": {"datum": 0.52, "axis": null}, "text": {"value": "6"}}}
]},
{"width": 518, "height": 23, "layer": [
 {"data": {"name": "s6"}, "mark": {"type": "line", "color": "#a0a0a0", "strokeWidth": 1.2}, "encoding": {"x": {"field": "t", "type": "quantitative", "scale": {"domain": [7.67, 136.7], "nice": false}, "axis": null}, "y": {"field": "v", "type": "quantitative", "scale": {"domain": [0, 1.4375], "nice": false}, "axis": null}}},
 {"data": {"values": [{}]}, "mark": {"type": "rule", "color": "#000", "strokeWidth": 1}, "encoding": {"x": {"datum": 9, "axis": null}, "y": {"datum": 0, "axis": null}, "y2": {"datum": 0.98}}},
 {"data": {"values": [{}]}, "mark": {"type": "text", "fontSize": 12.5, "color": "#222"}, "encoding": {"x": {"datum": 132.4, "axis": null}, "y": {"datum": 0.58, "axis": null}, "text": {"value": "Σ"}}}
]},
{"width": 518, "height": 22, "layer": [
 {"data": {"name": "a12"}, "mark": {"type": "line", "color": "#1a1a1a", "strokeWidth": 1.3}, "encoding": {"x": {"field": "t", "type": "quantitative", "scale": {"domain": [7.67, 136.7], "nice": false}, "axis": null}, "y": {"field": "v", "type": "quantitative", "scale": {"domain": [0, 1.375], "nice": false}, "axis": null}}},
 {"data": {"values": [{}]}, "mark": {"type": "rule", "color": "#000", "strokeWidth": 1}, "encoding": {"x": {"datum": 9, "axis": null}, "y": {"datum": 0, "axis": null}, "y2": {"datum": 0.95}}},
 {"data": {"values": [{}]}, "mark": {"type": "text", "fontSize": 11.5, "color": "#222"}, "encoding": {"x": {"datum": 132.4, "axis": null}, "y": {"datum": 0.5, "axis": null}, "text": {"value": "12"}}}
]},
{"width": 518, "height": 23, "layer": [
 {"data": {"name": "s12"}, "mark": {"type": "line", "color": "#a0a0a0", "strokeWidth": 1.2}, "encoding": {"x": {"field": "t", "type": "quantitative", "scale": {"domain": [7.67, 136.7], "nice": false}, "axis": null}, "y": {"field": "v", "type": "quantitative", "scale": {"domain": [0, 1.4375], "nice": false}, "axis": null}}},
 {"data": {"values": [{}]}, "mark": {"type": "rule", "color": "#000", "strokeWidth": 1}, "encoding": {"x": {"datum": 9, "axis": null}, "y": {"datum": 0, "axis": null}, "y2": {"datum": 0.98}}},
 {"data": {"values": [{}]}, "mark": {"type": "text", "fontSize": 12.5, "color": "#222"}, "encoding": {"x": {"datum": 132.4, "axis": null}, "y": {"datum": 0.64, "axis": null}, "text": {"value": "Σ"}}},
 {"data": {"values": [{}]}, "mark": {"type": "text", "fontSize": 14.5, "angle": 270, "align": "center", "baseline": "middle", "color": "#111"}, "encoding": {"x": {"datum": 4.88, "axis": null}, "y": {"datum": 0.83, "axis": null}, "text": {"value": "Amplitude [a.u.]"}}}
]},
{"width": 518, "height": 24, "layer": [
 {"data": {"name": "a25"}, "mark": {"type": "line", "color": "#1a1a1a", "strokeWidth": 1.3}, "encoding": {"x": {"field": "t", "type": "quantitative", "scale": {"domain": [7.67, 136.7], "nice": false}, "axis": null}, "y": {"field": "v", "type": "quantitative", "scale": {"domain": [0, 1.5], "nice": false}, "axis": null}}},
 {"data": {"values": [{}]}, "mark": {"type": "rule", "color": "#000", "strokeWidth": 1}, "encoding": {"x": {"datum": 9, "axis": null}, "y": {"datum": 0, "axis": null}, "y2": {"datum": 0.95}}},
 {"data": {"values": [{}]}, "mark": {"type": "text", "fontSize": 11.5, "color": "#222"}, "encoding": {"x": {"datum": 132.4, "axis": null}, "y": {"datum": 0.54, "axis": null}, "text": {"value": "25"}}}
]},
{"width": 518, "height": 22, "layer": [
 {"data": {"name": "s25"}, "mark": {"type": "line", "color": "#a0a0a0", "strokeWidth": 1.2}, "encoding": {"x": {"field": "t", "type": "quantitative", "scale": {"domain": [7.67, 136.7], "nice": false}, "axis": null}, "y": {"field": "v", "type": "quantitative", "scale": {"domain": [0, 1.375], "nice": false}, "axis": null}}},
 {"data": {"values": [{}]}, "mark": {"type": "rule", "color": "#000", "strokeWidth": 1}, "encoding": {"x": {"datum": 9, "axis": null}, "y": {"datum": 0, "axis": null}, "y2": {"datum": 0.98}}},
 {"data": {"values": [{}]}, "mark": {"type": "text", "fontSize": 12.5, "color": "#222"}, "encoding": {"x": {"datum": 132.4, "axis": null}, "y": {"datum": 0.56, "axis": null}, "text": {"value": "Σ"}}}
]},
{"width": 518, "height": 24, "layer": [
 {"data": {"name": "a23"}, "mark": {"type": "line", "color": "#1a1a1a", "strokeWidth": 1.3}, "encoding": {"x": {"field": "t", "type": "quantitative", "scale": {"domain": [7.67, 136.7], "nice": false}, "axis": null}, "y": {"field": "v", "type": "quantitative", "scale": {"domain": [0, 1.5], "nice": false}, "axis": null}}},
 {"data": {"values": [{}]}, "mark": {"type": "rule", "color": "#000", "strokeWidth": 1}, "encoding": {"x": {"datum": 9, "axis": null}, "y": {"datum": 0, "axis": null}, "y2": {"datum": 0.98}}},
 {"data": {"values": [{}]}, "mark": {"type": "text", "fontSize": 11.5, "color": "#222"}, "encoding": {"x": {"datum": 132.4, "axis": null}, "y": {"datum": 0.64, "axis": null}, "text": {"value": "23"}}}
]},
{"width": 518, "height": 19, "layer": [
 {"data": {"name": "s23"}, "mark": {"type": "line", "color": "#a0a0a0", "strokeWidth": 1.2}, "encoding": {"x": {"field": "t", "type": "quantitative", "scale": {"domain": [7.67, 136.7], "nice": false}, "axis": null}, "y": {"field": "v", "type": "quantitative", "scale": {"domain": [0, 1.1875], "nice": false}, "axis": null}}},
 {"data": {"values": [{}]}, "mark": {"type": "rule", "color": "#000", "strokeWidth": 1}, "encoding": {"x": {"datum": 9, "axis": null}, "y": {"datum": 0, "axis": null}, "y2": {"datum": 0.95}}},
 {"data": {"values": [{}]}, "mark": {"type": "text", "fontSize": 12.5, "color": "#222"}, "encoding": {"x": {"datum": 132.4, "axis": null}, "y": {"datum": 0.54, "axis": null}, "text": {"value": "Σ"}}}
]},
{"width": 518, "height": 25, "layer": [
 {"data": {"name": "a9"}, "mark": {"type": "line", "color": "#1a1a1a", "strokeWidth": 1.3}, "encoding": {"x": {"field": "t", "type": "quantitative", "scale": {"domain": [7.67, 136.7], "nice": false}, "axis": null}, "y": {"field": "v", "type": "quantitative", "scale": {"domain": [0, 1.5625], "nice": false}, "axis": null}}},
 {"data": {"values": [{}]}, "mark": {"type": "rule", "color": "#000", "strokeWidth": 1}, "encoding": {"x": {"datum": 9, "axis": null}, "y": {"datum": 0, "axis": null}, "y2": {"datum": 0.95}}},
 {"data": {"values": [{}]}, "mark": {"type": "text", "fontSize": 11.5, "color": "#222"}, "encoding": {"x": {"datum": 132.7, "axis": null}, "y": {"datum": 0.41, "axis": null}, "text": {"value": "9"}}}
]},
{"width": 518, "height": 21, "layer": [
 {"data": {"name": "s9"}, "mark": {"type": "line", "color": "#a0a0a0", "strokeWidth": 1.2}, "encoding": {"x": {"field": "t", "type": "quantitative", "scale": {"domain": [7.67, 136.7], "nice": false}, "axis": {"values": [20, 40, 60, 80, 100, 120], "ticks": false, "domain": false, "grid": false, "offset": 2, "labelFontSize": 13, "labelColor": "#222", "labelPadding": 9, "title": "Time [s]", "titleFontSize": 14.5, "titleFontWeight": "normal", "titleColor": "#111", "titlePadding": 2, "titleX": 251}}, "y": {"field": "v", "type": "quantitative", "scale": {"domain": [0, 1.3125], "nice": false}, "axis": null}}},
 {"data": {"name": "tk"}, "mark": {"type": "rule", "color": "#555", "strokeWidth": 1.2}, "encoding": {"x": {"field": "t", "type": "quantitative"}, "y": {"datum": -0.125, "axis": null}, "y2": {"datum": 0.19}}},
 {"data": {"values": [{}]}, "mark": {"type": "rule", "color": "#6a6a6a", "strokeWidth": 2.5}, "encoding": {"x": {"datum": 9}, "x2": {"datum": 136.7}, "y": {"datum": -0.125, "axis": null}}},
 {"data": {"values": [{}]}, "mark": {"type": "rule", "color": "#000", "strokeWidth": 1}, "encoding": {"x": {"datum": 9}, "y": {"datum": 0, "axis": null}, "y2": {"datum": 0.9}}},
 {"data": {"values": [{}]}, "mark": {"type": "text", "fontSize": 12.5, "color": "#222"}, "encoding": {"x": {"datum": 132.5}, "y": {"datum": 0.36, "axis": null}, "text": {"value": "Σ"}}}
]}
]
},
{
"spacing": 2,
"title": {"text": "* Σ = ∑ wᵢICᵢ ≅  AUⱼ", "orient": "bottom", "anchor": "start", "dx": 31, "offset": 14, "font": "Liberation Serif", "fontSize": 15, "fontWeight": "normal", "fontStyle": "italic", "color": "#111"},
"resolve": {"scale": {"color": "independent"}, "legend": {"color": "independent"}},
"hconcat": [
{"width": 125, "height": 152, "view": {"stroke": "#777", "strokeWidth": 1},
 "title": {"text": "Calibration– repetition 1", "fontSize": 11.5, "fontWeight": "normal", "color": "#222", "offset": -14, "frame": "group"},
 "data": {"name": "hm"},
 "transform": [{"filter": "datum.p == 1"}, {"fold": ["4", "6", "12", "25", "23", "9"], "as": ["c", "v"]}],
 "mark": {"type": "rect", "stroke": "#909090", "strokeWidth": 0.6},
 "encoding": {
  "x": {"field": "c", "type": "nominal", "sort": ["4", "6", "12", "25", "23", "9"], "scale": {"paddingInner": 0, "paddingOuter": 0}, "axis": {"title": null, "labelAngle": 0, "ticks": false, "domain": false, "labelFontSize": 10, "labelColor": "#333", "labelPadding": 5, "labelExpr": "datum.value == '4' ? 'AU4' : datum.value"}},
  "y": {"field": "r", "type": "nominal", "sort": ["IC-III", "XIV", "VII", "VIII", "IX", "XV", "I", "XII", "X", "XI", "IV", "V", "VI"], "scale": {"paddingInner": 0, "paddingOuter": 0}, "axis": {"title": "b", "titleAngle": 0, "titleX": -28.7, "titleY": -12, "titleAlign": "right", "titleBaseline": "middle", "titleFontSize": 13, "titleFontWeight": "bold", "titleColor": "#000", "ticks": false, "domain": false, "labelFontSize": 10.5, "labelColor": "#444", "labelPadding": 4}},
  "color": {"field": "v", "type": "quantitative", "scale": {"domain": [-1, 0, 1], "range": ["#ffffff", "#000000", "#ffffff"]}, "legend": null}
 }},
{"width": 127, "height": 152, "view": {"stroke": "#777", "strokeWidth": 1},
 "title": {"text": "Calibration – repetition 2", "fontSize": 11.5, "fontWeight": "normal", "color": "#222", "offset": 6, "frame": "group"},
 "data": {"name": "hm"},
 "transform": [{"filter": "datum.p == 2"}, {"fold": ["4", "6", "12", "25", "23", "9"], "as": ["c", "v"]}],
 "mark": {"type": "rect", "stroke": "#909090", "strokeWidth": 0.6},
 "encoding": {
  "x": {"field": "c", "type": "nominal", "sort": ["4", "6", "12", "25", "23", "9"], "scale": {"paddingInner": 0, "paddingOuter": 0}, "axis": {"title": null, "labelAngle": 0, "ticks": false, "domain": false, "labelFontSize": 10, "labelColor": "#333", "labelPadding": 5}},
  "y": {"field": "r", "type": "nominal", "sort": ["IC-III", "XIV", "VII", "VIII", "IX", "XV", "I", "XII", "X", "XI", "IV", "V", "VI"], "scale": {"paddingInner": 0, "paddingOuter": 0}, "axis": null},
  "color": {"field": "v", "type": "quantitative", "scale": {"domain": [-1, 0, 1], "range": ["#ffffff", "#000000", "#ffffff"]}, "legend": null}
 }},
{"width": 127, "height": 152, "view": {"stroke": "#777", "strokeWidth": 1},
 "title": {"text": "Imitation", "fontSize": 11.5, "fontWeight": "normal", "color": "#222", "offset": 6, "frame": "group"},
 "data": {"name": "hm"},
 "transform": [{"filter": "datum.p == 3"}, {"fold": ["4", "6", "12", "25", "23", "9"], "as": ["c", "v"]}],
 "mark": {"type": "rect", "stroke": "#909090", "strokeWidth": 0.6},
 "encoding": {
  "x": {"field": "c", "type": "nominal", "sort": ["4", "6", "12", "25", "23", "9"], "scale": {"paddingInner": 0, "paddingOuter": 0}, "axis": {"title": null, "labelAngle": 0, "ticks": false, "domain": false, "labelFontSize": 10, "labelColor": "#333", "labelPadding": 5}},
  "y": {"field": "r", "type": "nominal", "sort": ["IC-III", "XIV", "VII", "VIII", "IX", "XV", "I", "XII", "X", "XI", "IV", "V", "VI"], "scale": {"paddingInner": 0, "paddingOuter": 0}, "axis": null},
  "color": {"field": "v", "type": "quantitative", "scale": {"domain": [-1, 0, 1], "range": ["#ffffff", "#000000", "#ffffff"]}, "legend": null}
 }},
{"width": 127, "height": 152, "view": {"stroke": "#777", "strokeWidth": 1},
 "title": {"text": "Spontaneous smiles", "fontSize": 11.5, "fontWeight": "normal", "color": "#222", "offset": 6, "frame": "group"},
 "data": {"name": "hm"},
 "transform": [{"filter": "datum.p == 4"}, {"fold": ["4", "6", "12", "25", "23", "9"], "as": ["c", "v"]}],
 "mark": {"type": "rect", "stroke": "#909090", "strokeWidth": 0.6},
 "encoding": {
  "x": {"field": "c", "type": "nominal", "sort": ["4", "6", "12", "25", "23", "9"], "scale": {"paddingInner": 0, "paddingOuter": 0}, "axis": {"title": null, "labelAngle": 0, "ticks": false, "domain": false, "labelFontSize": 10, "labelColor": "#333", "labelPadding": 5}},
  "y": {"field": "r", "type": "nominal", "sort": ["IC-III", "XIV", "VII", "VIII", "IX", "XV", "I", "XII", "X", "XI", "IV", "V", "VI"], "scale": {"paddingInner": 0, "paddingOuter": 0}, "axis": null},
  "color": {"field": "v", "type": "quantitative", "scale": {"domain": [-1, 0, 1], "range": ["#ffffff", "#000000", "#ffffff"]}, "legend": {"title": null, "values": [-1, 0, 1], "labelExpr": "datum.value == 0 ? 'Low' : 'High'", "gradientLength": 152, "gradientThickness": 8, "gradientStrokeColor": "#888", "gradientStrokeWidth": 0.8, "labelFontSize": 10.5, "labelColor": "#222", "offset": 3, "padding": 0, "labelOffset": 4, "orient": "right", "direction": "vertical"}}
 }}
]
}
],
"spacing": 10
}
